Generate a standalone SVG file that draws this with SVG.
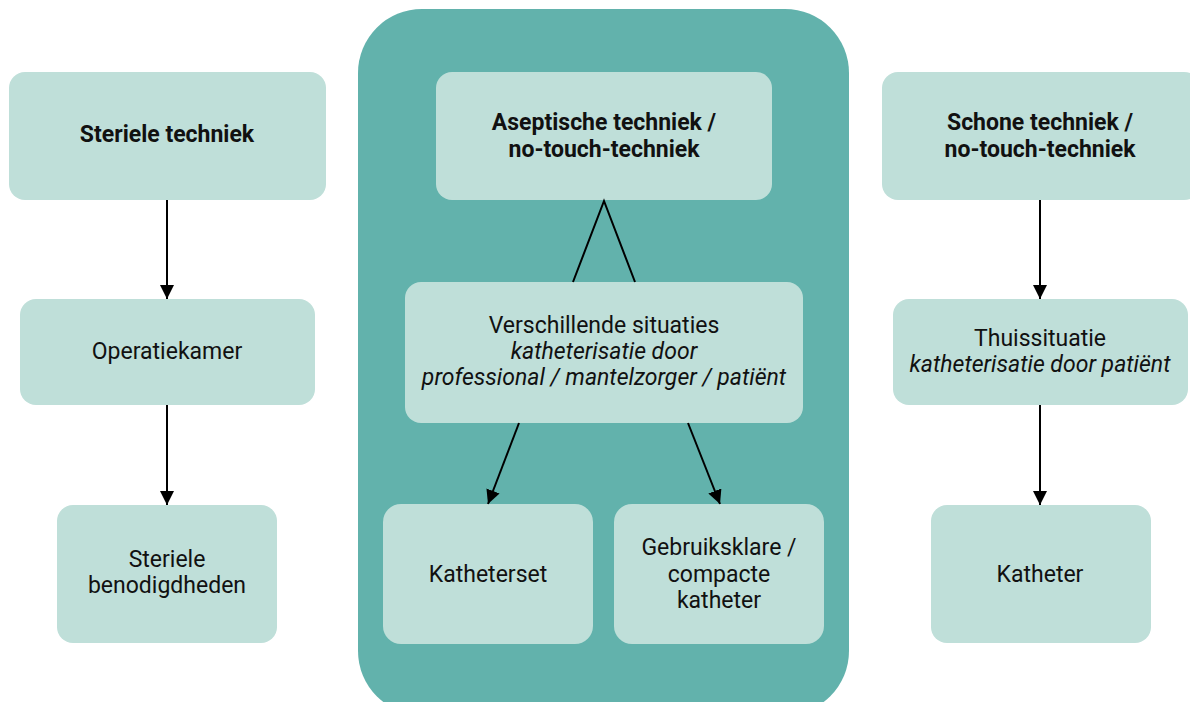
<svg xmlns="http://www.w3.org/2000/svg" width="1190" height="702" viewBox="0 0 1190 702">
<defs>
<style>
.box{fill:#bfdfd9}
.t{font-family:Roboto,"Liberation Sans",sans-serif;font-size:23px;fill:#111;text-anchor:middle}
.b{font-weight:bold}
.i{font-style:italic}
.c{stroke:#000;stroke-width:2;fill:none}
</style>
<marker id="ah" viewBox="0 0 14 14" refX="14" refY="7" markerWidth="14" markerHeight="14" markerUnits="userSpaceOnUse" orient="auto">
<path d="M0,0 L14,7 L0,14 Z" fill="#000"/>
</marker>
</defs>
<rect width="1190" height="702" fill="#fff"/>
<g id="container"><rect x="358" y="9" width="491" height="706" rx="64" fill="#62b2ac"/></g>
<g id="n-steriel"><rect class="box" x="9" y="72" width="317" height="128" rx="16"/><text class="t b" x="167" y="142">Steriele techniek</text></g>
<g id="n-aseptisch"><rect class="box" x="436" y="72" width="336" height="128" rx="16"/><text class="t b" x="604" y="130">Aseptische techniek /</text><text class="t b" x="604" y="157">no-touch-techniek</text></g>
<g id="n-schoon"><rect class="box" x="882" y="72" width="318" height="128" rx="16"/><text class="t b" x="1040" y="130">Schone techniek /</text><text class="t b" x="1040" y="157">no-touch-techniek</text></g>
<g id="n-ok"><rect class="box" x="20" y="299" width="295" height="106" rx="16"/><text class="t" x="167" y="359">Operatiekamer</text></g>
<g id="n-versch"><rect class="box" x="405" y="282" width="398" height="141" rx="16"/><text class="t" x="604" y="333">Verschillende situaties</text><text class="t i" x="604" y="359">katheterisatie door</text><text class="t i" x="604" y="385">professional / mantelzorger / patiënt</text></g>
<g id="n-thuis"><rect class="box" x="893" y="299" width="295" height="106" rx="16"/><text class="t" x="1040" y="346">Thuissituatie</text><text class="t i" x="1040" y="372">katheterisatie door patiënt</text></g>
<g id="n-stbeno"><rect class="box" x="57" y="505" width="220" height="138" rx="16"/><text class="t" x="167" y="567">Steriele</text><text class="t" x="167" y="593">benodigdheden</text></g>
<g id="n-kset"><rect class="box" x="383" y="504" width="210" height="140" rx="18"/><text class="t" x="488" y="582">Katheterset</text></g>
<g id="n-gebr"><rect class="box" x="614" y="504" width="210" height="140" rx="18"/><text class="t" x="719" y="555">Gebruiksklare /</text><text class="t" x="719" y="582">compacte</text><text class="t" x="719" y="608">katheter</text></g>
<g id="n-kath"><rect class="box" x="931" y="505" width="220" height="138" rx="16"/><text class="t" x="1040" y="582">Katheter</text></g>
<g id="connectors">
<line class="c" x1="167" y1="200" x2="167" y2="299" marker-end="url(#ah)"/>
<line class="c" x1="167" y1="405" x2="167" y2="505" marker-end="url(#ah)"/>
<line class="c" x1="1040" y1="200" x2="1040" y2="299" marker-end="url(#ah)"/>
<line class="c" x1="1040" y1="405" x2="1040" y2="505" marker-end="url(#ah)"/>
<polyline class="c" points="573,282 604,201 635,282"/>
<line class="c" x1="519" y1="423" x2="488" y2="504" marker-end="url(#ah)"/>
<line class="c" x1="688" y1="423" x2="720" y2="504" marker-end="url(#ah)"/>
</g>
</svg>
